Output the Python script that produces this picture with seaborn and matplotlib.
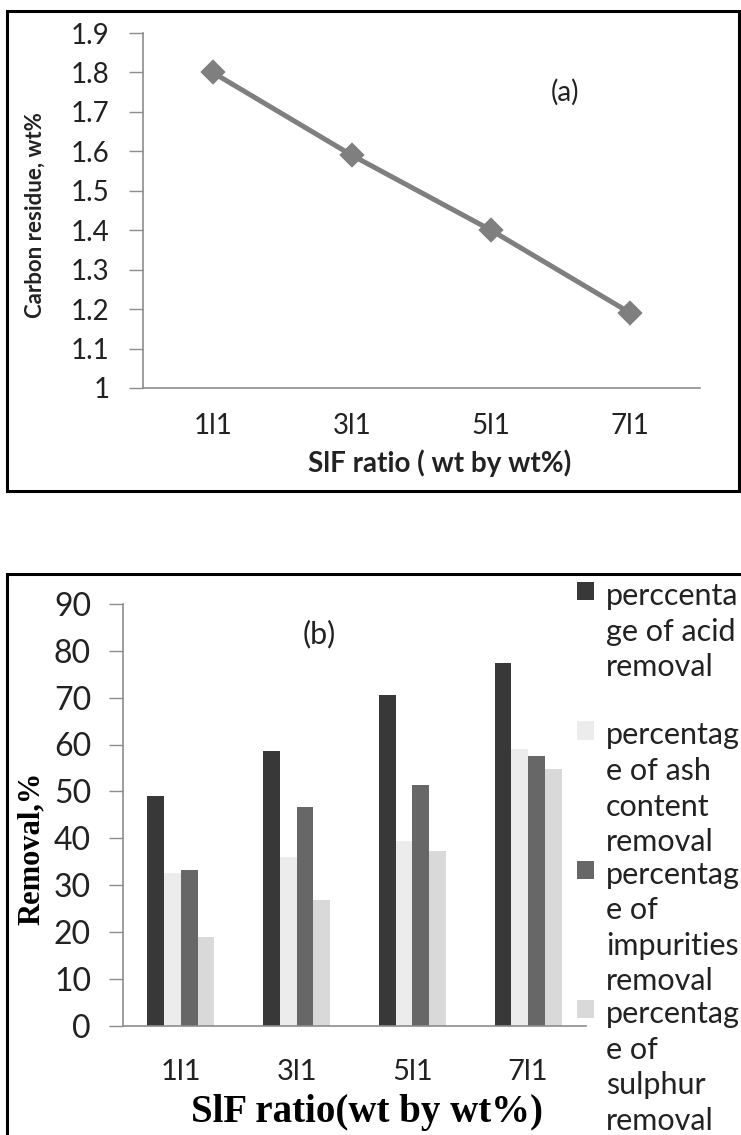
import matplotlib
matplotlib.use("Agg")
import matplotlib.pyplot as plt
from matplotlib.patches import Rectangle, Patch
from matplotlib.ticker import FixedLocator, NullFormatter
import seaborn as sns
import pandas as pd

# ---- data ----------------------------------------------------------------
ratios = ["1l1", "3l1", "5l1", "7l1"]
carbon_residue = [1.80, 1.59, 1.40, 1.19]

series_labels = [
    "perccenta\nge of acid\nremoval\n",
    "percentag\ne of ash\ncontent\nremoval",
    "percentag\ne of\nimpurities\nremoval",
    "percentag\ne of\nsulphur\nremoval",
]
acid_removal = [48.9, 58.7, 70.6, 77.4]
ash_removal = [32.6, 36.0, 39.4, 59.0]
impurities_removal = [33.3, 46.7, 51.4, 57.5]
sulphur_removal = [18.9, 26.9, 37.2, 54.7]
bar_colors = ["#383838", "#ececec", "#676767", "#d9d9d9"]

y_ticks_a = [1.0, 1.1, 1.2, 1.3, 1.4, 1.5, 1.6, 1.7, 1.8, 1.9]
y_tick_labels_a = ["1", "1.1", "1.2", "1.3", "1.4", "1.5", "1.6", "1.7", "1.8", "1.9"]
y_ticks_b = [0, 10, 20, 30, 40, 50, 60, 70, 80, 90]

# ---- figure --------------------------------------------------------------
sns.set_theme(style="white")
plt.rcParams["font.family"] = ["Lato", "DejaVu Sans"]
W, H = 741, 1135
fig = plt.figure(figsize=(W / 100, H / 100), dpi=100)

def fx(px):
    return px / W

def fy(py):
    return 1 - py / H

axis_grey = "#8c8c8c"
text_col = "#222222"
serif = ["Liberation Serif", "DejaVu Serif"]

# ---- panel (a): carbon residue ------------------------------------------
ax_a = fig.add_axes([fx(143), fy(388), fx(700) - fx(143), fy(33) - fy(388)])
df_a = pd.DataFrame({"ratio": ratios, "carbon": carbon_residue})
sns.pointplot(data=df_a, x="ratio", y="carbon", color="#7f7f7f", markers="D",
              markersize=10, linewidth=3.6, errorbar=None, ax=ax_a)
ax_a.set_xlim(-0.5, 3.5)
ax_a.set_ylim(1.0, 1.9)
ax_a.set_yticks(y_ticks_a)
ax_a.set_yticklabels(y_tick_labels_a)
ax_a.xaxis.set_minor_locator(FixedLocator([-0.5, 0.5, 1.5, 2.5, 3.5]))
ax_a.xaxis.set_minor_formatter(NullFormatter())
ax_a.tick_params(axis="x", which="major", length=0, pad=18, labelsize=20, labelcolor=text_col)
ax_a.tick_params(axis="x", which="minor", length=8, width=1, color=axis_grey, direction="out")
ax_a.tick_params(axis="y", length=10, width=1, color=axis_grey, direction="out", left=True,
                 pad=14, labelsize=20, labelcolor=text_col)
for side in ["top", "right"]:
    ax_a.spines[side].set_visible(False)
for side in ["left", "bottom"]:
    ax_a.spines[side].set_color(axis_grey)
    ax_a.spines[side].set_linewidth(1.2)
ax_a.set_xlabel("SlF ratio ( wt by wt%)", fontsize=20, fontweight="bold", color=text_col)
ax_a.set_ylabel("Carbon residue, wt%", fontsize=16, fontweight="bold", color=text_col)
ax_a.xaxis.set_label_coords((440 - 143) / 557, (388 - 449) / 355)
ax_a.yaxis.set_label_coords((46 - 143) / 557, (388 - 215) / 355)
ax_a.text((565 - 143) / 557, (388 - 92) / 355, "(a)", transform=ax_a.transAxes,
          ha="center", va="center", fontsize=20, color=text_col)

# ---- panel (b): removal percentages --------------------------------------
ax_b = fig.add_axes([fx(123), fy(1025.5), fx(586) - fx(123), fy(604) - fy(1025.5)])
series_values = [acid_removal, ash_removal, impurities_removal, sulphur_removal]
df_b = pd.DataFrame({
    "ratio": ratios * 4,
    "series": [lab for lab in series_labels for _ in ratios],
    "removal": [v for vals in series_values for v in vals],
})
sns.barplot(data=df_b, x="ratio", y="removal", hue="series", hue_order=series_labels,
            palette=bar_colors, width=0.58, gap=0, saturation=1, errorbar=None,
            edgecolor="none", linewidth=0, ax=ax_b)
ax_b.set_xlim(-0.5, 3.5)
ax_b.set_ylim(0, 90)
ax_b.set_yticks(y_ticks_b)
ax_b.tick_params(axis="x", length=0, pad=24, labelsize=21, labelcolor=text_col)
ax_b.tick_params(axis="y", length=10, width=1, color=axis_grey, direction="out", left=True,
                 pad=13, labelsize=23, labelcolor=text_col)
for side in ["top", "right"]:
    ax_b.spines[side].set_visible(False)
for side in ["left", "bottom"]:
    ax_b.spines[side].set_color(axis_grey)
    ax_b.spines[side].set_linewidth(1.2)
ax_b.set_xlabel("SlF ratio(wt by wt%)", fontsize=28, fontweight="bold",
                family=serif, color="black")
ax_b.set_ylabel("Removal,%", fontsize=22, fontweight="bold",
                family=serif, color="black")
ax_b.xaxis.set_label_coords((367 - 123) / 463, (1025.5 - 1094) / 421.5)
ax_b.yaxis.set_label_coords((46 - 123) / 463, (1025.5 - 848) / 421.5)
ax_b.text((319 - 123) / 463, (1025.5 - 634) / 421.5, "(b)", transform=ax_b.transAxes,
          ha="center", va="center", fontsize=22, color=text_col)

# legend to the right of the plot area, square at the first line of each entry
handles = [Patch(facecolor=c, edgecolor="none") for c in bar_colors]
leg = ax_b.legend(handles, series_labels, loc="upper left",
                  bbox_to_anchor=(fx(577), fy(582)), bbox_transform=fig.transFigure,
                  frameon=False, fontsize=22, handlelength=0.55, handleheight=0.55,
                  handletextpad=0.4, labelspacing=0.15, borderpad=0, borderaxespad=0)
for t in leg.get_texts():
    t.set_linespacing(1.33)
    t.set_color(text_col)
for column in leg._legend_handle_box.get_children():
    for row in column.get_children():
        row.align = "top"

# ---- outer frames around each panel --------------------------------------
fig.add_artist(Rectangle((fx(7), fy(491)), fx(739) - fx(7), fy(11) - fy(491),
                         transform=fig.transFigure, fill=False, edgecolor="black",
                         linewidth=2.2))
fig.add_artist(Rectangle((fx(7), fy(1200)), fx(800) - fx(7), fy(574) - fy(1200),
                         transform=fig.transFigure, fill=False, edgecolor="black",
                         linewidth=2.2))

fig.savefig("out.png", dpi=100)
